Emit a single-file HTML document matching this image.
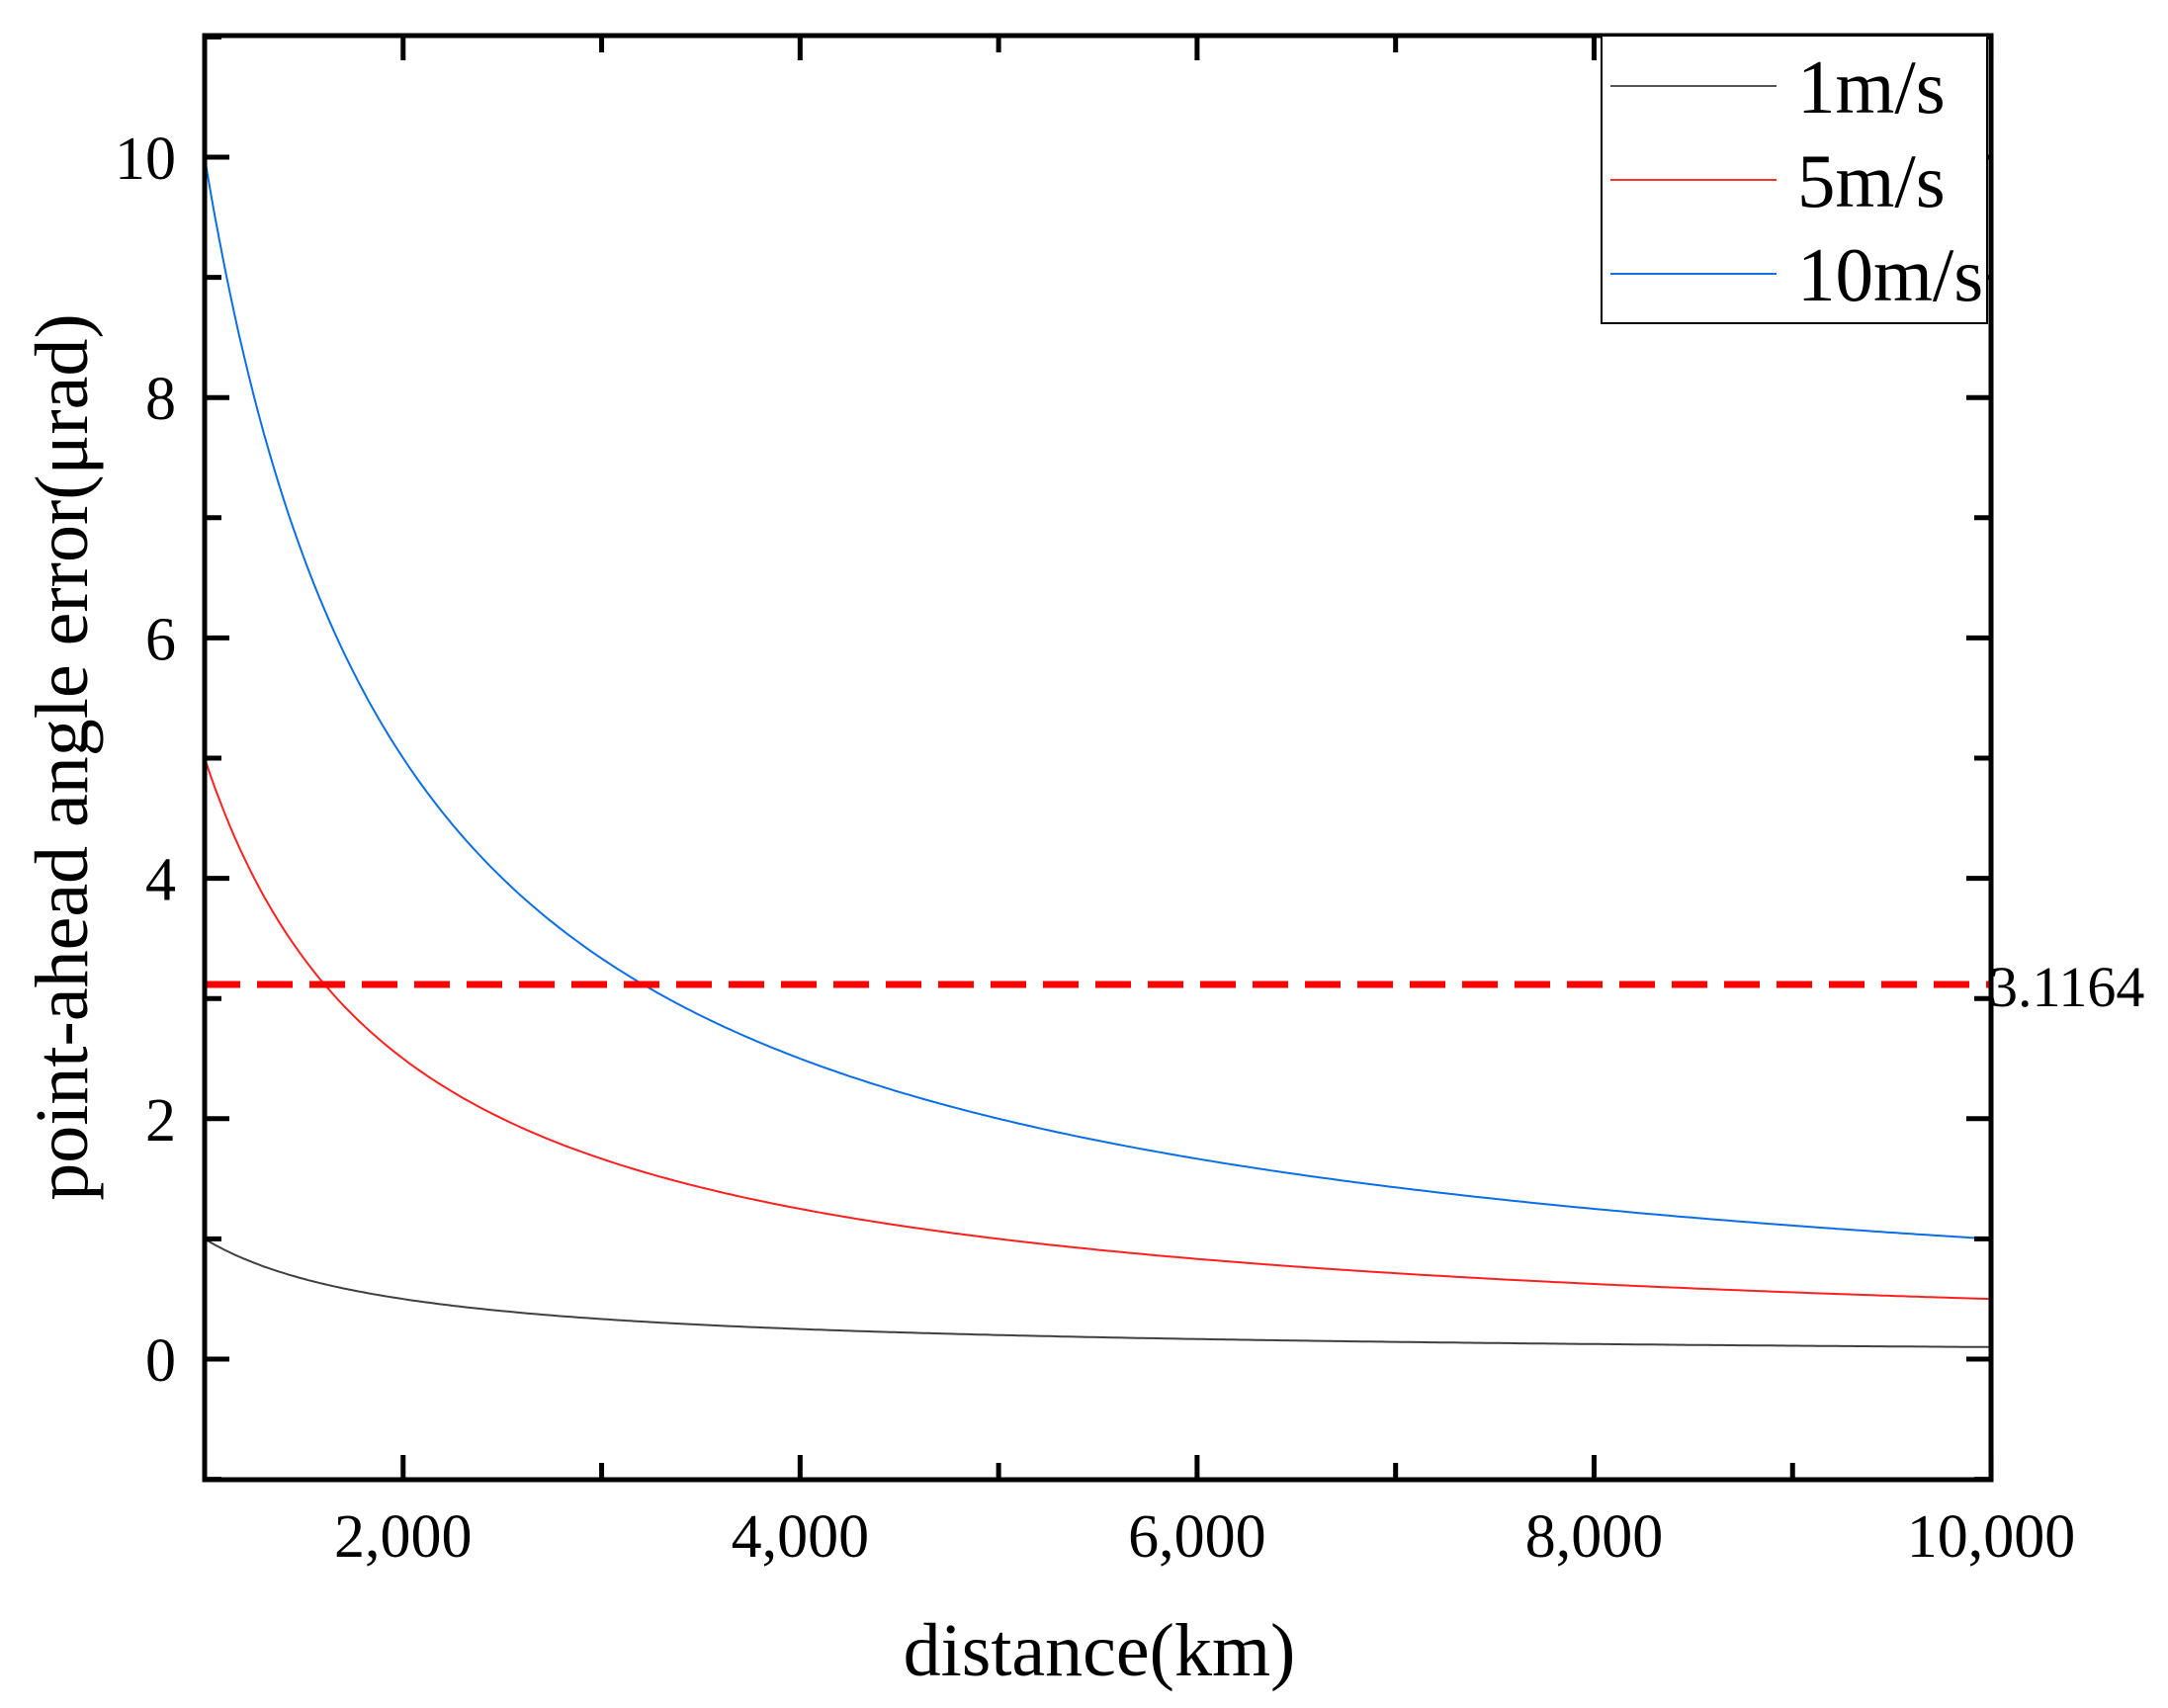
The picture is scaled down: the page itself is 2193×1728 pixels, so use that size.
<!DOCTYPE html>
<html><head><meta charset="utf-8"><style>
html,body{margin:0;padding:0;background:#fff;}
svg{display:block;}
text{font-family:"Liberation Serif",serif;fill:#000;}
</style></head><body>
<svg id="s" width="2193" height="1728" viewBox="0 0 2193 1728" xmlns="http://www.w3.org/2000/svg">
<g id="curves" fill="none" stroke-width="2"></g>
<line x1="207" y1="996" x2="2014" y2="996" stroke="#ff0000" stroke-width="7" stroke-dasharray="36,17"/>
<rect x="207" y="36" width="1807" height="1461" fill="none" stroke="#000" stroke-width="5"/>
<g id="ticks" stroke="#000" stroke-width="5"></g>
<g id="labels" font-size="62"></g>
<g font-size="58"><text x="2012" y="1018">3.1164</text></g>
<rect x="1620" y="36" width="390" height="291" fill="#fff" stroke="#000" stroke-width="2"/>
<line x1="1629" y1="87" x2="1797" y2="87" stroke="#555" stroke-width="2"/>
<line x1="1629" y1="182" x2="1797" y2="182" stroke="#ff3030" stroke-width="2"/>
<line x1="1629" y1="277" x2="1797" y2="277" stroke="#1a6fe0" stroke-width="2"/>
<g font-size="77">
<text x="1818" y="114">1m/s</text>
<text x="1818" y="209">5m/s</text>
<text x="1818" y="304">10m/s</text>
</g>
<text x="1112" y="1695" font-size="76" text-anchor="middle">distance(km)</text>
<text transform="translate(88,766) rotate(-90)" font-size="76" text-anchor="middle">point-ahead angle error(μrad)</text>
</svg>
<script>
var ns="http://www.w3.org/2000/svg";
function X(d){return 207+(d-1000)*0.20078;}
function Y(v){return 1375-121.6*v;}
var cols={1:"#404040",5:"#ff2020",10:"#0a6ee6"};
var g=document.getElementById("curves");
[1,5,10].forEach(function(v){var p="";for(var d=1000;d<=10000;d+=25){p+=(p?"L":"M")+X(d).toFixed(1)+","+Y(v*1000/d).toFixed(1);}
var e=document.createElementNS(ns,"path");e.setAttribute("d",p);e.setAttribute("stroke",cols[v]);g.appendChild(e);});
var t=document.getElementById("ticks"),L=document.getElementById("labels");
function ln(a,b,c,d){var e=document.createElementNS(ns,"line");e.setAttribute("x1",a);e.setAttribute("y1",b);e.setAttribute("x2",c);e.setAttribute("y2",d);t.appendChild(e);}
function tx(x,y,s,anc){var e=document.createElementNS(ns,"text");e.setAttribute("x",x);e.setAttribute("y",y);e.setAttribute("text-anchor",anc);e.textContent=s;L.appendChild(e);}
for(var d=2000;d<=10000;d+=1000){var x=X(d),maj=d%2000==0,l=maj?25:17;ln(x,1497,x,1497-l);ln(x,36,x,36+l);
 if(maj)tx(x,1575,(d/1000)+",000","middle");}
for(var v=-1;v<=11;v++){var y=Y(v),maj=v%2==0,l=maj?25:17;ln(207,y,207+l,y);ln(2014,y,2014-l,y);
 if(maj)tx(178,y+22,""+v,"end");}
</script>
</body></html>
